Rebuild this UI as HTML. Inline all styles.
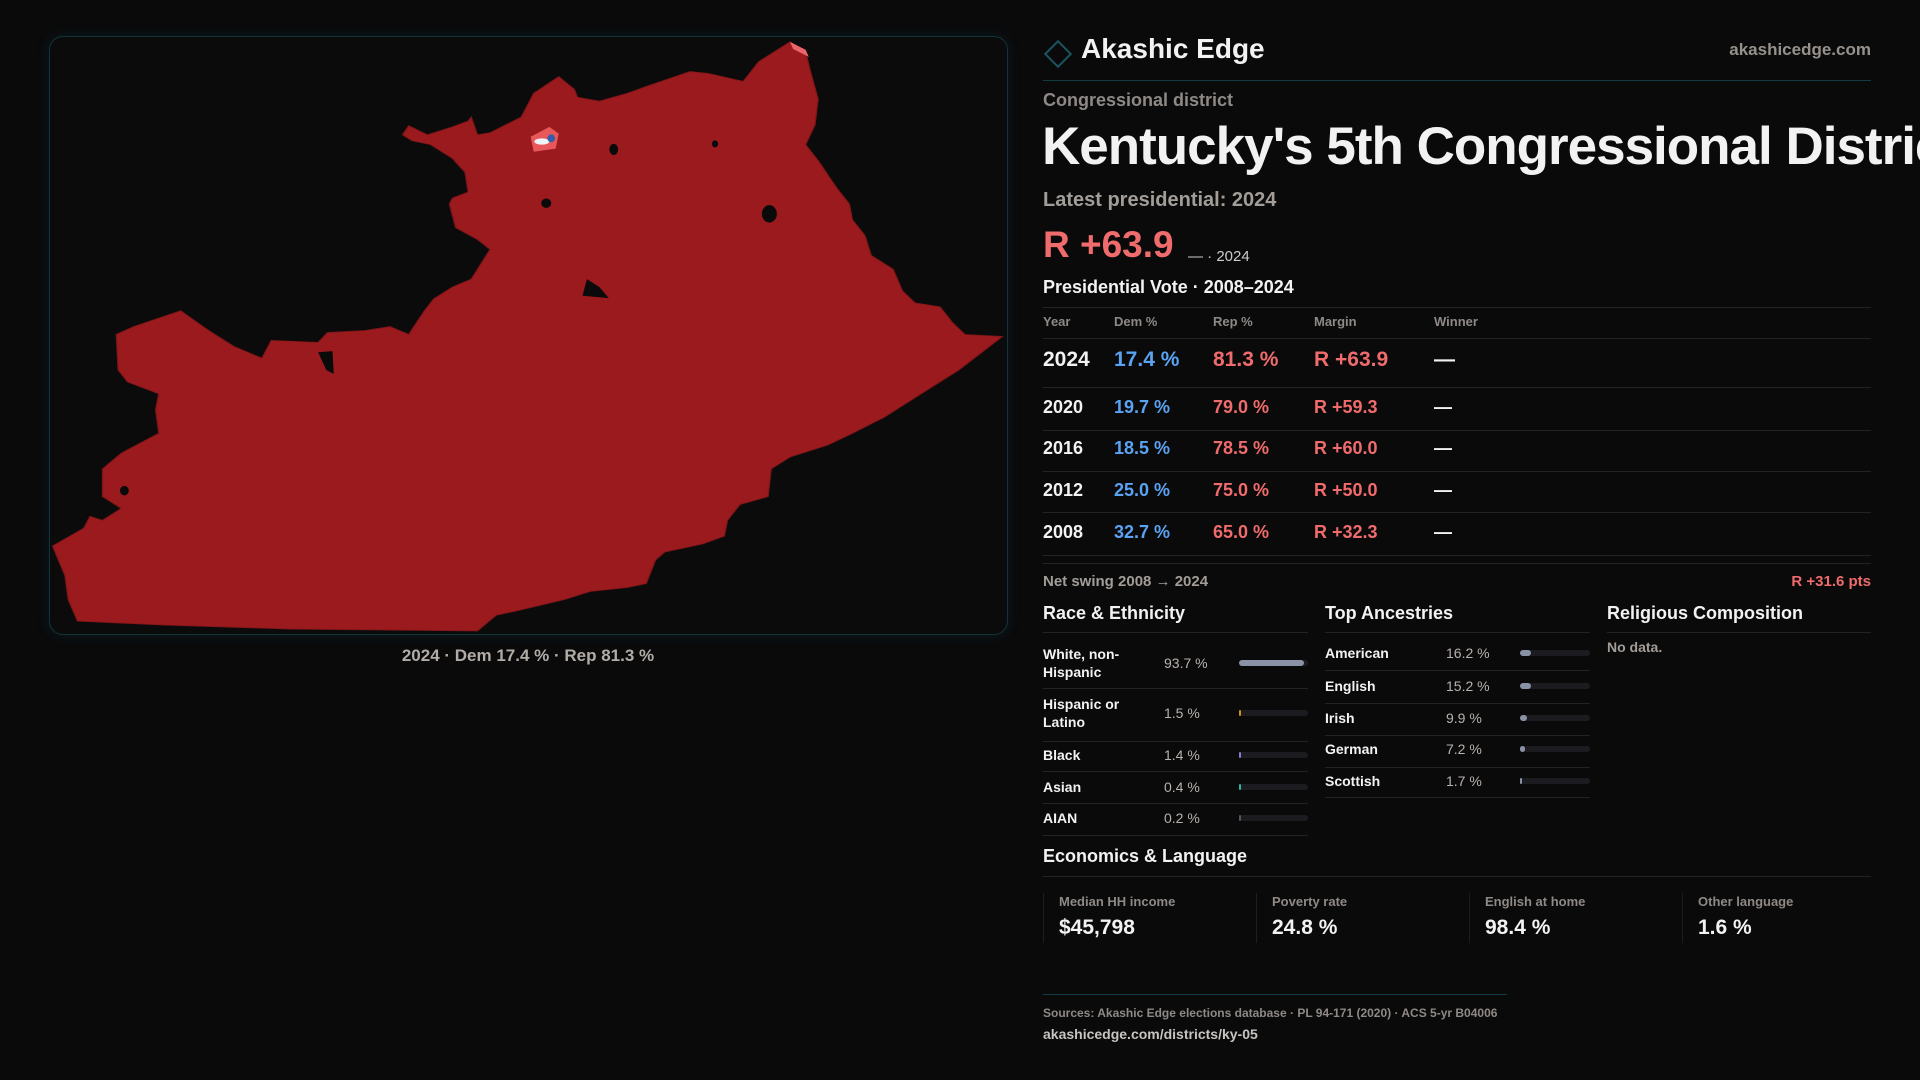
<!DOCTYPE html>
<html><head><meta charset="utf-8"><style>
*{margin:0;padding:0;box-sizing:border-box}
body{width:1920px;height:1080px;background:#0a0a0b;overflow:hidden;position:relative;font-family:"Liberation Sans",sans-serif;color:#f2f2f2}
.a{position:absolute;white-space:nowrap}
.g{color:#a39d98}
.red{color:#f06b6b}.blue{color:#5aa2f2}
.hr{position:absolute;height:1px;background:#232326}
.fill{position:absolute;left:0;top:0;height:6px;border-radius:3px}
</style></head><body>
<div class="a" style="left:49px;top:36px;width:959px;height:599px;border:1px solid #12343a;border-radius:14px;background:#0b0b0c;box-shadow:0 0 12px rgba(20,80,90,.25)"></div>
<svg class="a" style="left:40px;top:30px" width="980" height="620" viewBox="0 0 1568 1568" preserveAspectRatio="none">
<polygon fill="#9a1a1e" stroke="#7e1518" stroke-width="2" points="1200,30 1225,55 1232,100 1245,175 1240,240 1225,290 1245,330 1275,400 1295,440 1300,480 1320,520 1330,570 1365,605 1380,660 1400,690 1440,700 1460,740 1480,770 1540,775 1470,860 1400,930 1350,980 1300,1020 1260,1050 1200,1080 1170,1110 1165,1180 1120,1200 1100,1240 1095,1280 1060,1300 1000,1320 985,1340 970,1400 940,1410 880,1420 840,1440 800,1455 760,1470 730,1480 700,1520 400,1515 200,1505 60,1495 45,1440 40,1380 20,1305 70,1260 80,1230 100,1240 130,1210 100,1180 100,1110 130,1070 190,1020 185,960 190,920 140,890 125,860 122,770 150,750 225,710 270,760 310,800 355,830 370,785 445,790 460,765 520,760 560,750 590,770 615,710 630,680 660,650 690,630 720,555 700,530 665,500 655,440 660,425 685,410 680,360 660,325 625,290 595,280 580,265 590,242 620,265 660,245 685,230 690,220 700,265 720,260 770,220 790,160 830,118 855,150 860,170 895,180 940,160 975,140 1040,105 1070,110 1125,130 1150,80"/>
<g fill="#0a0a0b">
<ellipse cx="918" cy="302" rx="7" ry="14"/><ellipse cx="810" cy="438" rx="8" ry="12"/>
<polygon points="875,630 895,650 910,678 868,672"/><ellipse cx="1167" cy="465" rx="12" ry="22"/>
<polygon points="445,815 468,812 470,870 458,860"/><ellipse cx="135" cy="1165" rx="7" ry="12"/><ellipse cx="1080" cy="288" rx="5" ry="9"/>
</g>
<polygon fill="#e8575a" points="785,270 815,245 830,262 825,300 790,308"/>
<ellipse cx="803" cy="282" rx="12" ry="8" fill="#eef3f8"/><ellipse cx="818" cy="274" rx="6" ry="10" fill="#2f5fa8"/>
<polygon fill="#e9656a" points="1200,30 1225,50 1230,68 1205,48"/>
</svg>
<div class="a g" style="left:0;width:1056px;text-align:center;top:646px;font-size:17px;font-weight:bold;color:#b2aca7">2024 · Dem 17.4 % · Rep 81.3 %</div>

<div class="a" style="left:1048px;top:44px;width:20px;height:20px;border:2px solid #1a5560;transform:rotate(45deg)"></div>
<div class="a" style="left:1081px;top:33px;font-size:28px;font-weight:bold">Akashic Edge</div>
<div class="a g" style="right:49px;top:40px;font-size:17px;font-weight:bold;color:#97918c">akashicedge.com</div>
<div class="hr" style="left:1043px;width:828px;top:80px;background:#113c44"></div>
<div class="a g" style="left:1043px;top:90px;font-size:18px;font-weight:bold;color:#8f8985">Congressional district</div>
<div class="a" style="left:1040px;top:112px;width:880px;height:76px;overflow:hidden">
<div class="a" style="left:2px;top:4px;font-size:53px;font-weight:bold;letter-spacing:-1px">Kentucky's 5th Congressional District</div>
</div>
<div class="a g" style="left:1043px;top:189px;font-size:20px;font-weight:bold">Latest presidential: 2024</div>
<div class="a red" style="left:1043px;top:224px;font-size:37px;font-weight:bold">R +63.9</div>
<div class="a" style="left:1188px;top:248px;font-size:15px;color:#ccc">— · 2024</div>
<div class="a" style="left:1043px;top:277px;font-size:18px;font-weight:bold">Presidential Vote · 2008–2024</div>
<div class="hr" style="left:1043px;width:828px;top:307px"></div>
<div id="table"></div>
<div class="a g" style="left:1043px;top:573px;font-size:15px;font-weight:bold">Net swing 2008 → 2024</div>
<div class="a red" style="right:49px;top:573px;font-size:15px;font-weight:bold">R +31.6 pts</div>

<div class="a" style="left:1043px;top:603px;font-size:18px;font-weight:bold">Race &amp; Ethnicity</div>
<div class="a" style="left:1325px;top:603px;font-size:18px;font-weight:bold">Top Ancestries</div>
<div class="a" style="left:1607px;top:603px;font-size:18px;font-weight:bold">Religious Composition</div>
<div class="hr" style="left:1043px;width:265px;top:632px"></div>
<div class="hr" style="left:1325px;width:265px;top:632px"></div>
<div class="hr" style="left:1607px;width:264px;top:632px"></div>
<div class="a g" style="left:1607px;top:639px;font-size:14px;font-weight:bold">No data.</div>
<div id="race"></div>
<div id="anc"></div>

<div class="a" style="left:1043px;top:846px;font-size:18px;font-weight:bold">Economics &amp; Language</div>
<div class="hr" style="left:1043px;width:828px;top:876px"></div>
<div id="stats"></div>

<div class="hr" style="left:1043px;width:464px;top:994px;background:#113c44"></div>
<div class="a g" style="left:1043px;top:1006px;font-size:12px;font-weight:bold;color:#8f8985">Sources: Akashic Edge elections database · PL 94-171 (2020) · ACS 5-yr B04006</div>
<div class="a" style="left:1043px;top:1026px;font-size:14px;font-weight:bold;color:#c8c3bf">akashicedge.com/districts/ky-05</div>

<script>
const years=['2024','2020','2016','2012','2008'];
const demPct=[17.4,19.7,18.5,25.0,32.7];
const repPct=[81.3,79.0,78.5,75.0,65.0];
const raceLabels=['White, non-\nHispanic','Hispanic or\nLatino','Black','Asian','AIAN'];
const raceValues=[93.7,1.5,1.4,0.4,0.2];
const raceColors=['#8a93a6','#d4901e','#8a7ad8','#2bb59a','#555'];
const ancLabels=['American','English','Irish','German','Scottish'];
const ancValues=[16.2,15.2,9.9,7.2,1.7];
const statLabels=['Median HH income','Poverty rate','English at home','Other language'];
const statValues=['$45,798','24.8 %','98.4 %','1.6 %'];

function add(parent,html,css,name){const d=document.createElement('div');d.className='a';d.style.cssText=css;d.innerHTML=html;


parent.appendChild(d);return d;}
const T=document.getElementById('table');
const cols=[1043,1114,1213,1314,1434];
['Year','Dem %','Rep %','Margin','Winner'].forEach((h,i)=>add(T,h,`left:${cols[i]}px;top:314px;font-size:13px;font-weight:bold;color:#8f8985`,'table-header'));
const hrs=[338,387,430,471,512,555,563];
hrs.forEach(y=>add(T,'',`left:1043px;width:828px;top:${y}px;height:1px;background:#232326`,'table-divider'));
const rowTop=[349,397,438,480,522];
years.forEach((yr,i)=>{const fs=i==0?21:18;const t=rowTop[i]-(i==0?1:0);
add(T,yr,`left:${cols[0]}px;top:${t}px;font-size:${fs}px;font-weight:bold`,'row-year');
add(T,demPct[i].toFixed(1)+' %',`left:${cols[1]}px;top:${t}px;font-size:${fs}px;font-weight:bold;color:#5aa2f2`,'row-dem');
add(T,repPct[i].toFixed(1)+' %',`left:${cols[2]}px;top:${t}px;font-size:${fs}px;font-weight:bold;color:#f06b6b`,'row-rep');
add(T,'R +'+(repPct[i]-demPct[i]).toFixed(1),`left:${cols[3]}px;top:${t}px;font-size:${fs}px;font-weight:bold;color:#f06b6b`,'row-margin');
add(T,'—',`left:${cols[4]}px;top:${t}px;font-size:${fs}px;font-weight:bold`,'row-winner');});

const R=document.getElementById('race');
const raceCenter=[663,713,755,787,818];const raceDiv=[688,741,771,803,835];
raceLabels.forEach((l,i)=>{const two=l.includes('\n');
add(R,l.replace('\n','<br>'),`left:1043px;top:${raceCenter[i]-(two?18:9)}px;font-size:14px;font-weight:bold;line-height:18px`,'race-label');
add(R,raceValues[i].toFixed(1)+' %',`left:1164px;top:${raceCenter[i]-9}px;font-size:14px;color:#b8b2ad;line-height:18px`,'race-value');
const b=add(R,'',`left:1239px;top:${raceCenter[i]-3}px;width:69px;height:6px;border-radius:3px;background:#1c1c20`,'race-bar-track');
const f=document.createElement('div');f.className='fill';f.style.width=Math.max(1.5,raceValues[i]/100*69)+'px';f.style.background=raceColors[i];


b.appendChild(f);
add(R,'',`left:1043px;width:265px;top:${raceDiv[i]}px;height:1px;background:#232326`,'race-divider');});

const A=document.getElementById('anc');
const ancCenter=[653,686,718,749,781];const ancDiv=[670,703,735,767,797];
ancLabels.forEach((l,i)=>{
add(A,l,`left:1325px;top:${ancCenter[i]-9}px;font-size:14px;font-weight:bold;line-height:18px`,'ancestry-label');
add(A,ancValues[i].toFixed(1)+' %',`left:1446px;top:${ancCenter[i]-9}px;font-size:14px;color:#b8b2ad;line-height:18px`,'ancestry-value');
const b=add(A,'',`left:1520px;top:${ancCenter[i]-3}px;width:70px;height:6px;border-radius:3px;background:#1c1c20`,'ancestry-bar-track');
const f=document.createElement('div');f.className='fill';f.style.width=Math.max(1.5,ancValues[i]/100*70)+'px';f.style.background='#8a93a6';


b.appendChild(f);
add(A,'',`left:1325px;width:265px;top:${ancDiv[i]}px;height:1px;background:#232326`,'ancestry-divider');});

const S=document.getElementById('stats');
statLabels.forEach((l,i)=>{const x=1043+i*213;
add(S,'',`left:${x}px;top:893px;width:1px;height:50px;background:#1e1e22`,'stat-card-border');
add(S,l,`left:${x+16}px;top:894px;font-size:13px;font-weight:bold;color:#8f8985`,'stat-label');
add(S,statValues[i],`left:${x+16}px;top:916px;font-size:21px;font-weight:bold`,'stat-value');});
</script>
</body></html>
